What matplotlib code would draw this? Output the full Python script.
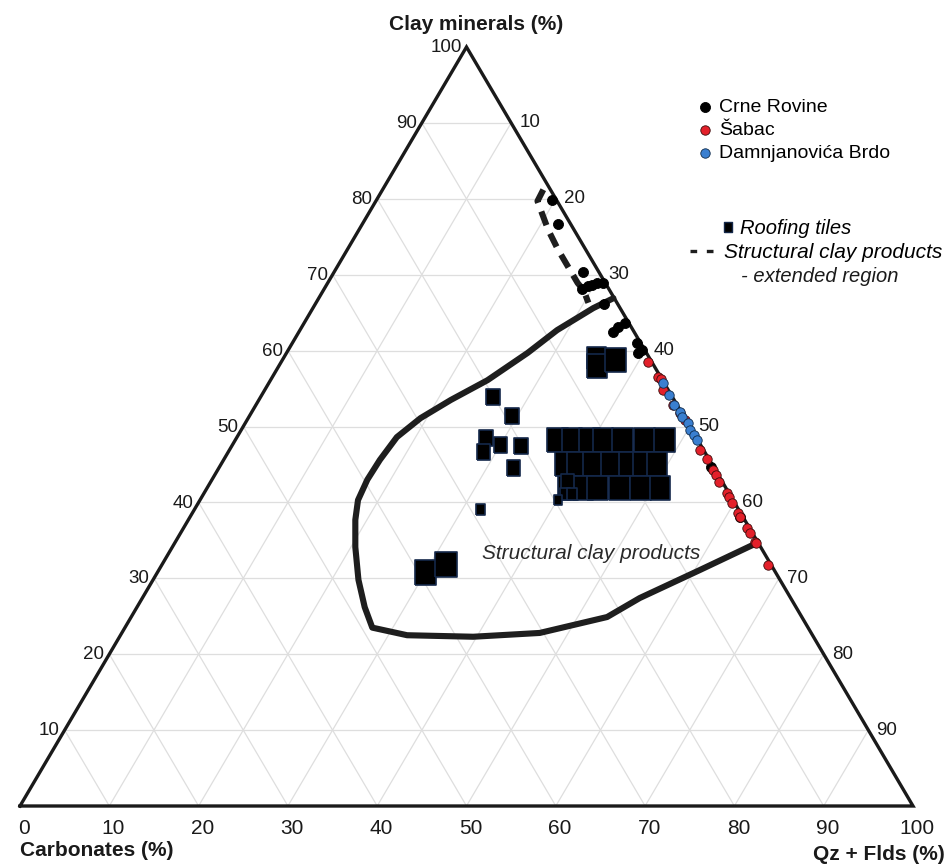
import numpy as np
import matplotlib.pyplot as plt
from matplotlib.lines import Line2D

plt.rcParams['font.family'] = ['Liberation Sans', 'DejaVu Sans']

# --- samples (clay minerals %, Qz + Flds %); carbonates = 100 - clay - qz ---
crne_clay = [79.8, 76.7, 70.4, 68.1, 68.5, 68.6, 68.9, 68.9, 66.1, 62.5, 63.1, 63.6,
             61.0, 59.7, 60.1, 44.7, 38.1]
crne_qz = [19.7, 21.9, 27.8, 28.9, 29.4, 29.8, 30.2, 30.8, 32.4, 35.2, 35.4, 36.0,
           38.6, 39.3, 39.6, 55.0, 61.6]

sabac_clay = [58.5, 56.5, 56.3, 54.8, 52.8, 51.8, 50.9, 46.9, 45.7, 44.3, 43.6, 42.7,
              41.2, 40.7, 39.9, 38.6, 38.1, 36.6, 36.0, 34.8, 34.7, 31.8]
sabac_qz = [41.1, 43.2, 43.6, 44.6, 46.7, 48.0, 49.0, 52.7, 54.1, 55.5, 56.1, 56.9,
            58.6, 59.0, 59.8, 61.1, 61.6, 63.1, 63.7, 64.9, 65.1, 67.9]

damn_clay = [55.7, 54.2, 52.8, 51.9, 51.3, 50.5, 49.5, 48.9, 48.2]
damn_qz = [44.1, 45.6, 46.8, 48.0, 48.5, 49.5, 50.3, 51.0, 51.7]

# roofing tiles
tile_clay = [53.9, 51.4, 48.5, 46.6, 47.6, 47.4, 44.5, 39.1,
             30.8, 31.8,
             59.0, 58.0, 58.8,
             48.2, 48.2, 48.2, 48.2, 48.2, 48.2, 48.2,
             45.1, 45.1, 45.1, 45.1, 45.1, 45.1, 45.1,
             41.9, 41.9, 41.9, 41.9, 41.9, 41.9,
             42.8, 41.1, 41.1, 40.3]
tile_qz = [26.0, 29.4, 27.9, 28.6, 30.0, 32.4, 33.0, 32.0,
           30.0, 31.8,
           35.1, 35.6, 37.3,
           36.1, 37.7, 39.7, 41.2, 43.4, 45.8, 48.1,
           38.5, 39.9, 41.6, 43.7, 45.7, 47.3, 48.8,
           40.4, 42.1, 43.7, 46.2, 48.5, 50.7,
           39.9, 40.5, 41.3, 40.1]
# marker heights in pixels
tile_px = [16, 16, 16, 16, 16, 16, 16, 11,
           25, 25,
           22, 24, 24,
           24, 24, 24, 24, 24, 24, 24,
           24, 24, 24, 24, 24, 24, 24,
           24, 24, 24, 24, 24, 24,
           15, 12, 12, 10]

# structural clay products field (solid) and its extension (dashed)
field_clay = [66.9, 65.6, 62.7, 59.7, 56.1, 53.5, 51.1, 48.6, 45.6, 43.0, 40.3, 37.7,
              34.1, 29.8, 26.2, 23.5, 22.5, 22.3, 22.8, 24.9, 27.4, 31.1, 34.5]
field_qz = [33.0, 31.4, 28.8, 27.0, 24.3, 21.5, 19.3, 17.9, 17.5, 17.4, 17.7, 18.7,
            20.5, 23.0, 25.5, 27.7, 32.1, 39.6, 46.8, 53.3, 55.7, 60.6, 65.0]
ext_clay = [81.2, 79.7, 78.1, 75.9, 73.3, 71.0, 68.9, 68.0, 66.3]
ext_qz = [18.0, 18.1, 19.4, 21.2, 23.6, 25.9, 28.0, 29.1, 30.5]

ticks = list(range(10, 100, 10))


def tern(clay, qz):
    clay = np.asarray(clay, float)
    qz = np.asarray(qz, float)
    return qz + clay / 2, clay


W, H = 950, 867
fig = plt.figure(figsize=(W / 100, H / 100), dpi=100)
ax = fig.add_axes([20 / W, 61 / H, 893 / W, 759 / H])
ax.set_xlim(0, 100)
ax.set_ylim(0, 100)
ax.axis('off')

# grid
gcol = '#dedede'
for v in ticks:
    ax.plot(*tern([v, v], [0, 100 - v]), color=gcol, lw=0.9, zorder=1)
    ax.plot(*tern([0, 100 - v], [v, v]), color=gcol, lw=0.9, zorder=1)
    ax.plot(*tern([0, 100 - v], [100 - v, 0]), color=gcol, lw=0.9, zorder=1)

# frame
ax.plot(*tern([0, 0, 100, 0], [0, 100, 0, 0]), color='#1a1a1a', lw=2.4,
        solid_joinstyle='miter', zorder=3, clip_on=False)

# tick labels
tk = dict(color='#1a1a1a', textcoords='offset points', annotation_clip=False)
for v in range(0, 101, 10):
    ax.annotate(str(v), tern(0, v), xytext=(3.0, -16.5), ha='center', va='center',
                fontsize=15, **tk)
for v in range(10, 101, 10):
    ax.annotate(str(v), tern(v, 0), xytext=(-3.6, -0.5), ha='right', va='center',
                fontsize=13.5, **tk)
for v in ticks:
    ax.annotate(str(v), tern(100 - v, v), xytext=(5.8, 0), ha='left', va='center',
                fontsize=13.5, **tk)

fig.text(476 / W, 1 - 24 / H, 'Clay minerals (%)', ha='center', va='center',
         fontsize=15, fontweight='bold', color='#1a1a1a')
fig.text(20 / W, 1 - 850 / H, 'Carbonates (%)', ha='left', va='center',
         fontsize=15, fontweight='bold', color='#1a1a1a')
fig.text(945 / W, 1 - 855 / H, 'Qz + Flds (%)', ha='right', va='center',
         fontsize=15, fontweight='bold', color='#1a1a1a')

# fields
ax.plot(*tern(field_clay, field_qz), color='#1e1e1e', lw=4.4,
        solid_capstyle='round', solid_joinstyle='round', zorder=4)
ax.plot(*tern(ext_clay, ext_qz), color='#1e1e1e', lw=4.4, ls=(0, (2.4, 1.5)), zorder=4)
ax.text(51.7, 33.3, 'Structural clay products', style='italic', fontsize=15,
        color='#2a2a2a', ha='left', va='center', zorder=6)

# roofing tiles
rect = [(-0.43, -0.5), (0.43, -0.5), (0.43, 0.5), (-0.43, 0.5), (-0.43, -0.5)]
sizes = (np.array(tile_px) * 0.72) ** 2
ax.scatter(*tern(tile_clay, tile_qz), s=sizes, marker=rect, c='black',
           edgecolors='#14284a', linewidths=1.2, zorder=5)

# samples
h_cr = ax.scatter(*tern(crne_clay, crne_qz), s=52, c='black', edgecolors='black',
                  linewidths=0.6, zorder=7, label='Crne Rovine')
h_sa = ax.scatter(*tern(sabac_clay, sabac_qz), s=46, c='#e3202a', edgecolors='#3a0a0a',
                  linewidths=0.6, zorder=8, label='Šabac')
h_da = ax.scatter(*tern(damn_clay, damn_qz), s=46, c='#3a7fd0', edgecolors='#0e2a4a',
                  linewidths=0.6, zorder=9, label='Damnjanovića Brdo')

# legends
leg_kw = dict(frameon=False, borderpad=0, borderaxespad=0,
              scatterpoints=1, handleheight=0.7)
fig.legend(handles=[h_cr, h_sa, h_da], loc='center left',
           bbox_to_anchor=(697 / W, 1 - 130 / H), fontsize=14, labelspacing=0.27,
           handlelength=0.8, handletextpad=0.33, **leg_kw)

h_tile = Line2D([], [], ls='none', marker=rect, markersize=7.5, mfc='black',
                mec='#14284a', mew=1.0)
fig.legend(handles=[h_tile], labels=['Roofing tiles'], loc='center left',
           bbox_to_anchor=(722 / W, 1 - 229 / H), labelspacing=0,
           handlelength=0.6, handletextpad=0.27, prop={'style': 'italic', 'size': 14.5},
           **leg_kw)

h_ext = Line2D([], [], color='#1e1e1e', lw=2.4, ls=(0, (2.0, 2.9)))
fig.legend(handles=[h_ext], labels=['Structural clay products'], loc='center left',
           bbox_to_anchor=(690 / W, 1 - 253 / H), labelspacing=0,
           handlelength=1.25, handletextpad=0.4, prop={'style': 'italic', 'size': 15},
           **leg_kw)
fig.text(741 / W, 1 - 276 / H, '- extended region', style='italic', fontsize=14.5,
         color='#1a1a1a', ha='left', va='center')

fig.savefig('out.png', dpi=100)
